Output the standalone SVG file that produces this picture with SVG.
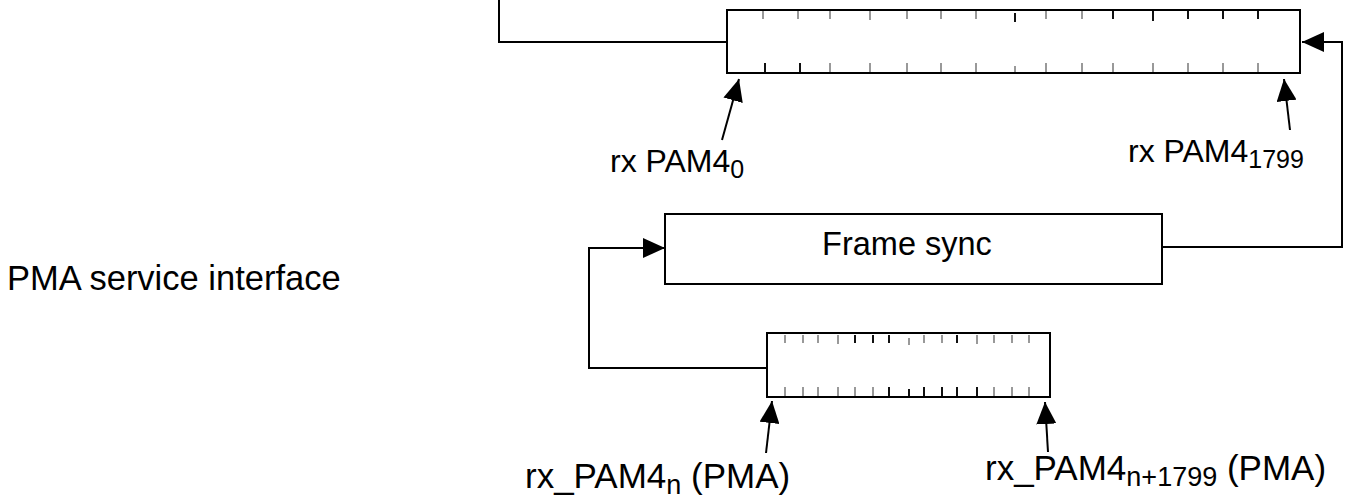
<svg xmlns="http://www.w3.org/2000/svg" width="1348" height="499" viewBox="0 0 1348 499">
<defs>
<marker id="ah" viewBox="0 0 10 10" refX="10" refY="5" markerWidth="22" markerHeight="20" markerUnits="userSpaceOnUse" orient="auto" preserveAspectRatio="none">
<path d="M0,0 L10,5 L0,10 z" fill="#000"/>
</marker>
</defs>
<style>
.box{fill:#fff;stroke:#000;stroke-width:2}
.ln{fill:none;stroke:#000;stroke-width:2}
.tk{stroke:#999;stroke-width:2}
.tkb{stroke:#111;stroke-width:2}
.t{font-family:"Liberation Sans",Arial,sans-serif;font-size:32px;fill:#000}
.b{font-size:35px}
.sub{font-size:25px}
.subb{font-size:27px}
</style>
<rect width="1348" height="499" fill="#fff"/>
<g id="connectors">
<polyline class="ln" points="499,0 499,42 727,42"/>
<polyline class="ln" points="1162,247 1342,247 1342,42 1302,42" marker-end="url(#ah)"/>
<polyline class="ln" points="767,368 589,368 589,248 665,248" marker-end="url(#ah)"/>
<line class="ln" x1="722" y1="140" x2="739" y2="79" marker-end="url(#ah)"/>
<line class="ln" x1="1290" y1="130" x2="1284" y2="79" marker-end="url(#ah)"/>
<line class="ln" x1="766" y1="453" x2="772" y2="401" marker-end="url(#ah)"/>
<line class="ln" x1="1048" y1="452" x2="1045" y2="402" marker-end="url(#ah)"/>
</g>
<g id="register-top">
<rect class="box" x="727" y="10" width="573" height="63"/>
<g class="tk">
<line x1="763" y1="11" x2="763" y2="19"/><line x1="798" y1="11" x2="798" y2="19"/><line x1="830" y1="11" x2="830" y2="19"/><line x1="870" y1="11" x2="870" y2="20"/><line x1="907" y1="11" x2="907" y2="19"/><line x1="941" y1="11" x2="941" y2="19"/><line x1="976" y1="11" x2="976" y2="19"/><line x1="1046" y1="11" x2="1046" y2="19"/><line x1="1082" y1="11" x2="1082" y2="19"/>
<line x1="830" y1="63" x2="830" y2="72"/><line x1="870" y1="63" x2="870" y2="72"/><line x1="907" y1="63" x2="907" y2="72"/><line x1="941" y1="63" x2="941" y2="72"/><line x1="976" y1="63" x2="976" y2="72"/><line x1="1015" y1="66" x2="1015" y2="72"/><line x1="1046" y1="63" x2="1046" y2="72"/><line x1="1082" y1="63" x2="1082" y2="72"/><line x1="1113" y1="63" x2="1113" y2="72"/><line x1="1153" y1="63" x2="1153" y2="72"/><line x1="1188" y1="63" x2="1188" y2="72"/><line x1="1223" y1="63" x2="1223" y2="72"/><line x1="1258" y1="63" x2="1258" y2="72"/>
</g>
<g class="tkb">
<line x1="1015" y1="13" x2="1015" y2="22"/><line x1="1113" y1="11" x2="1113" y2="19"/><line x1="1153" y1="11" x2="1153" y2="21"/><line x1="1188" y1="11" x2="1188" y2="19"/><line x1="1223" y1="11" x2="1223" y2="19"/><line x1="1258" y1="11" x2="1258" y2="19"/>
<line x1="765" y1="63" x2="765" y2="72"/><line x1="800" y1="63" x2="800" y2="72"/>
</g>
</g>
<g id="frame-sync">
<rect class="box" x="665" y="214" width="497" height="70"/>
<text class="t" x="907" y="255" text-anchor="middle" style="font-size:32.5px">Frame sync</text>
</g>
<g id="register-bottom">
<rect class="box" x="767" y="333" width="283" height="64"/>
<g class="tk">
<line x1="785" y1="335" x2="785" y2="343"/><line x1="803" y1="335" x2="803" y2="343"/><line x1="818" y1="335" x2="818" y2="343"/><line x1="838" y1="335" x2="838" y2="344"/><line x1="909" y1="338" x2="909" y2="345"/><line x1="924" y1="335" x2="924" y2="343"/><line x1="942" y1="335" x2="942" y2="343"/><line x1="977" y1="335" x2="977" y2="344"/><line x1="994" y1="335" x2="994" y2="343"/><line x1="1012" y1="335" x2="1012" y2="343"/><line x1="1029" y1="335" x2="1029" y2="343"/>
<line x1="785" y1="387" x2="785" y2="396"/><line x1="803" y1="387" x2="803" y2="396"/><line x1="818" y1="387" x2="818" y2="396"/><line x1="838" y1="387" x2="838" y2="396"/><line x1="855" y1="387" x2="855" y2="396"/><line x1="873" y1="387" x2="873" y2="396"/><line x1="994" y1="387" x2="994" y2="396"/><line x1="1012" y1="387" x2="1012" y2="396"/><line x1="1029" y1="387" x2="1029" y2="396"/>
</g>
<g class="tkb">
<line x1="855" y1="335" x2="855" y2="343"/><line x1="873" y1="335" x2="873" y2="343"/><line x1="889" y1="335" x2="889" y2="343"/><line x1="957" y1="335" x2="957" y2="343"/>
<line x1="889" y1="387" x2="889" y2="396"/><line x1="909" y1="389" x2="909" y2="396"/><line x1="924" y1="387" x2="924" y2="396"/><line x1="942" y1="387" x2="942" y2="396"/><line x1="957" y1="387" x2="957" y2="396"/><line x1="977" y1="387" x2="977" y2="396"/>
</g>
</g>
<g id="labels">
<text class="t" x="610" y="172">rx PAM4<tspan class="sub" dy="6">0</tspan></text>
<text class="t" x="1128" y="162">rx PAM4<tspan class="sub" dy="6">1799</tspan></text>
<text class="t b" x="525" y="488">rx_PAM4<tspan class="subb" dy="6">n</tspan><tspan dy="-6"> (PMA)</tspan></text>
<text class="t b" x="985" y="480">rx_PAM4<tspan class="subb" dy="6">n+1799</tspan><tspan dy="-6"> (PMA)</tspan></text>
<text class="t" x="7" y="290" style="font-size:34.5px">PMA service interface</text>
</g>
</svg>
